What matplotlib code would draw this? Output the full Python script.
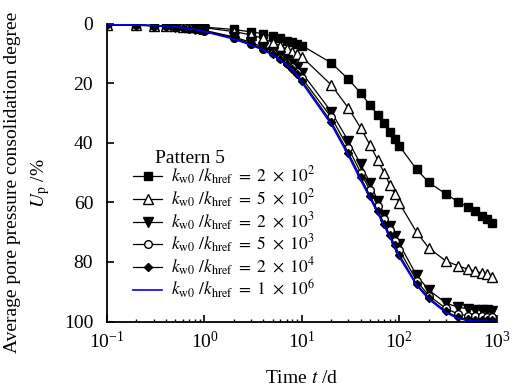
import numpy as np
import matplotlib
matplotlib.use("Agg")
import matplotlib.pyplot as plt
from matplotlib.ticker import LogLocator, LogFormatterMathtext, NullFormatter

plt.rcParams['font.family'] = ['Liberation Serif', 'DejaVu Serif']
plt.rcParams['mathtext.fontset'] = 'stix'

# time steps (d)
t = [0.1, 0.2, 0.3, 0.4, 0.5, 0.6, 0.7, 0.8, 0.9,
     1, 2, 3, 4, 5, 6, 7, 8, 9,
     10, 20, 30, 40, 50, 60, 70, 80, 90,
     100, 150, 200, 300, 400, 500, 600, 700, 800, 900]
t_line = t + [1000]

# Up (%) for each permeability ratio
up_2e2 = [0.5, 0.6, 0.7, 0.8, 0.9, 1.0, 1.0, 1.1, 1.1,
          1.2, 2.0, 2.8, 3.4, 4.2, 5.0, 5.7, 6.3, 6.9,
          7.4, 13.2, 18.7, 23.3, 27.4, 30.7, 33.5, 36.3, 38.8,
          41.1, 48.9, 53.3, 57.2, 59.8, 61.5, 63.0, 64.6, 65.6, 66.8]
up_5e2 = [0.5, 0.6, 0.7, 0.8, 0.9, 1.0, 1.1, 1.2, 1.3,
          1.4, 2.7, 3.8, 5.0, 6.4, 7.5, 8.6, 9.4, 10.3,
          11.2, 20.6, 28.4, 35.0, 40.8, 45.8, 50.2, 54.2, 57.3,
          60.3, 70.0, 75.3, 79.7, 81.3, 82.4, 83.1, 83.7, 84.2, 85.0]
up_2e3 = [0.3, 0.5, 0.7, 0.9, 1.1, 1.3, 1.5, 1.8, 2.0,
          2.3, 4.5, 6.3, 7.9, 9.4, 10.8, 12.2, 13.6, 15.0,
          16.5, 29.6, 39.5, 47.2, 53.5, 59.5, 64.2, 68.0, 71.2,
          74.0, 84.5, 89.4, 93.8, 95.2, 95.7, 96.0, 96.2, 96.3, 96.4]
up_5e3 = [0.3, 0.5, 0.7, 0.9, 1.1, 1.3, 1.6, 1.9, 2.2,
          2.5, 4.8, 6.8, 8.4, 10.0, 11.6, 13.1, 14.6, 16.3,
          18.3, 31.5, 41.8, 50.0, 56.0, 61.3, 65.6, 69.4, 72.9,
          76.0, 86.3, 91.3, 95.6, 97.5, 98.0, 98.2, 98.3, 98.4, 98.4]
up_2e4 = [0.3, 0.5, 0.7, 0.9, 1.1, 1.4, 1.7, 2.0, 2.3,
          2.6, 5.0, 7.0, 8.7, 10.3, 12.0, 13.6, 15.1, 17.0,
          19.2, 33.0, 43.4, 51.6, 57.8, 62.9, 67.2, 71.0, 74.4,
          77.6, 87.4, 92.0, 96.6, 98.6, 99.2, 99.4, 99.5, 99.5, 99.5]
up_1e6 = [0.3, 0.5, 0.7, 0.9, 1.1, 1.4, 1.7, 2.0, 2.3,
          2.7, 5.2, 7.2, 8.9, 10.6, 12.3, 13.9, 15.5, 17.5,
          19.8, 33.8, 44.3, 52.5, 58.6, 63.7, 68.0, 71.7, 75.2,
          78.4, 87.8, 92.5, 97.0, 99.0, 99.6, 99.8, 99.9, 99.9, 100.0, 100.0]

ratios = [r'2\ \times\ 10^{2}', r'5\ \times\ 10^{2}', r'2\ \times\ 10^{3}',
          r'5\ \times\ 10^{3}', r'2\ \times\ 10^{4}', r'1\ \times\ 10^{6}']
labels = [r'$k_{\rm w0}\ /k_{\rm href}\ =\ ' + r + '$' for r in ratios]

fig = plt.figure(figsize=(5.17, 3.89), dpi=100)
ax = fig.add_axes([0.207, 0.1735, 0.754, 0.766])

ax.plot(t, up_2e2, 'k-', marker='s', ms=5.5, mfc='k', lw=0.9, label=labels[0])
ax.plot(t, up_5e2, 'k-', marker='^', ms=6.5, mfc='w', lw=0.9, label=labels[1])
ax.plot(t, up_2e3, 'k-', marker='v', ms=6.5, mfc='k', lw=0.9, label=labels[2])
ax.plot(t, up_5e3, 'k-', marker='o', ms=5.5, mfc='w', lw=0.9, label=labels[3])
ax.plot(t, up_2e4, 'k-', marker='D', ms=4.5, mfc='k', lw=0.9, label=labels[4])
ax.plot(t_line, up_1e6, '-', color='#0000ee', lw=1.2, label=labels[5])

ax.set_xscale('log')
ax.set_xlim(0.1, 1000)
ax.set_ylim(100, 0)
ax.set_yticks([0, 20, 40, 60, 80, 100])
ax.xaxis.set_major_locator(LogLocator(base=10, numticks=10))
ax.xaxis.set_major_formatter(LogFormatterMathtext())
ax.xaxis.set_minor_locator(LogLocator(base=10, subs=np.arange(2, 10), numticks=10))
ax.xaxis.set_minor_formatter(NullFormatter())

ax.spines['top'].set_visible(False)
ax.spines['right'].set_visible(False)
for s in ['left', 'bottom']:
    ax.spines[s].set_linewidth(1.3)
ax.tick_params(axis='both', which='major', direction='in', length=5, width=1.2,
               labelsize=14)
ax.tick_params(axis='y', pad=10)
ax.tick_params(axis='x', pad=7)
ax.tick_params(axis='x', which='minor', direction='in', length=2.5, width=1.0)

ax.set_xlabel(r'Time $t$ /d', fontsize=14, labelpad=13)
fig.text(0.025, 0.53, 'Average pore pressure consolidation degree', fontsize=14,
         rotation=90, ha='center', va='center')
fig.text(0.078, 0.53, r'$U_{\rm p}$ /%', fontsize=14,
         rotation=90, ha='center', va='center')

# legend heading
ax.text(0.213, 0.548, 'Pattern 5', transform=ax.transAxes, fontsize=14,
        ha='center', va='center')
leg = ax.legend(loc='upper left', bbox_to_anchor=(0.066, 0.525), frameon=False,
                fontsize=12.5, handlelength=1.7, handletextpad=0.5,
                labelspacing=0.01, borderaxespad=0, borderpad=0)

fig.savefig('out.png', dpi=100)
